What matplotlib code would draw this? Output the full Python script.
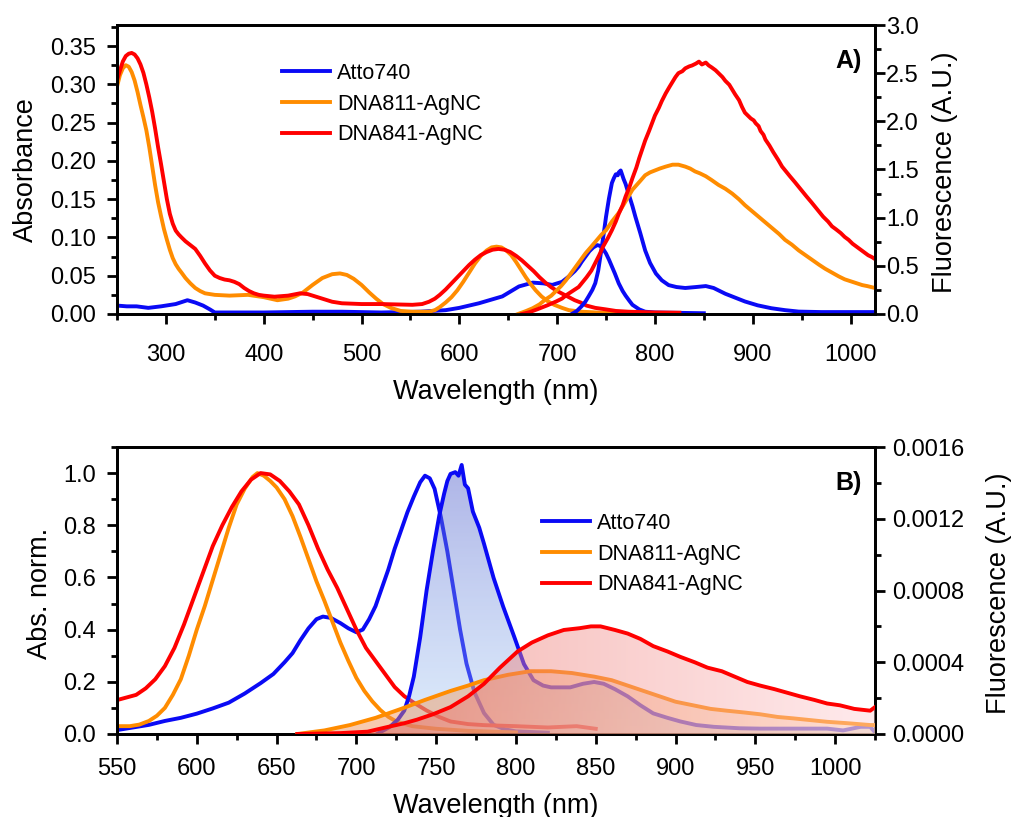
import numpy as np
import matplotlib
matplotlib.use("Agg")
import matplotlib.pyplot as plt
from matplotlib.ticker import MultipleLocator, FormatStrFormatter

plt.rcParams["font.family"] = ["Liberation Sans", "DejaVu Sans"]

BLUE = "#0a0af5"
ORANGE = "#ff8c00"
RED = "#ff0000"
labels = ["Atto740", "DNA811-AgNC", "DNA841-AgNC"]

# ----------------------------------------------------
# Panel A: absorbance (left axis)
# ----------------------------------------------------
a_abs_blue_wl = [250, 260, 270, 282, 295, 310, 322, 330, 338, 345, 350, 400, 450, 480, 520, 560,
                 586, 600, 620, 644, 661, 675, 686, 695, 705, 712, 718, 722, 725, 729, 733, 737,
                 741, 744, 747, 750, 753, 756, 759, 763, 767, 770, 774, 777, 784, 790, 800, 850]
a_abs_blue = [0.011, 0.010, 0.010, 0.008, 0.010, 0.013, 0.018, 0.015, 0.011, 0.006, 0.002, 0.002,
              0.003, 0.003, 0.002, 0.003, 0.005, 0.008, 0.014, 0.023, 0.036, 0.041, 0.040, 0.038,
              0.042, 0.049, 0.056, 0.062, 0.068, 0.075, 0.082, 0.087, 0.090, 0.089, 0.085, 0.079,
              0.071, 0.062, 0.053, 0.040, 0.030, 0.024, 0.017, 0.012, 0.006, 0.003, 0.002, 0.001]

a_abs_orange_wl = [250, 253, 256, 259, 262, 265, 268, 271, 274, 277, 280, 283, 286, 289, 292, 295,
                   298, 301, 304, 307, 310, 313, 316, 320, 325, 330, 335, 340, 345, 350, 365, 384,
                   400, 414, 425, 432, 440, 450, 460, 470, 478, 485, 492, 500, 508, 515, 522, 530,
                   540, 552, 569, 575, 580, 586, 592, 598, 604, 610, 616, 622, 628, 633, 638, 643,
                   648, 653, 658, 663, 668, 673, 678, 684, 690, 697, 705, 712, 725, 740, 760]
a_abs_orange = [0.297, 0.312, 0.321, 0.325, 0.323, 0.316, 0.305, 0.290, 0.273, 0.257, 0.240, 0.218,
                0.193, 0.168, 0.146, 0.128, 0.111, 0.097, 0.084, 0.073, 0.065, 0.059, 0.054, 0.047,
                0.040, 0.034, 0.030, 0.027, 0.026, 0.025, 0.024, 0.025, 0.022, 0.018, 0.020, 0.023,
                0.028, 0.038, 0.047, 0.052, 0.053, 0.051, 0.046, 0.038, 0.028, 0.020, 0.013, 0.008,
                0.004, 0.003, 0.003, 0.005, 0.009, 0.015, 0.022, 0.031, 0.042, 0.054, 0.066, 0.076,
                0.083, 0.087, 0.088, 0.087, 0.083, 0.077, 0.068, 0.058, 0.048, 0.039, 0.031, 0.023,
                0.017, 0.012, 0.008, 0.005, 0.003, 0.002, 0.001]

a_abs_red_wl = [250, 253, 256, 259, 262, 265, 268, 271, 274, 277, 280, 283, 286, 289, 292, 295,
                298, 301, 304, 307, 310, 313, 316, 320, 325, 330, 335, 340, 345, 350, 355, 360,
                365, 370, 375, 380, 385, 390, 395, 400, 411, 425, 437, 445, 455, 470, 480, 500,
                520, 552, 562, 569, 575, 580, 586, 592, 598, 604, 610, 616, 622, 628, 634, 640,
                646, 652, 658, 664, 670, 676, 682, 688, 694, 700, 706, 712, 718, 724, 730, 739,
                750, 760, 773, 800, 825]
a_abs_red = [0.305, 0.318, 0.330, 0.337, 0.340, 0.341, 0.339, 0.334, 0.326, 0.315, 0.300, 0.283,
             0.264, 0.242, 0.218, 0.196, 0.173, 0.150, 0.131, 0.118, 0.109, 0.104, 0.100, 0.095,
             0.090, 0.085, 0.076, 0.066, 0.057, 0.050, 0.047, 0.045, 0.044, 0.042, 0.039, 0.034,
             0.030, 0.027, 0.025, 0.024, 0.0226, 0.024, 0.027, 0.026, 0.022, 0.016, 0.014, 0.013,
             0.013, 0.012, 0.013, 0.016, 0.020, 0.025, 0.032, 0.040, 0.048, 0.056, 0.064, 0.071,
             0.077, 0.081, 0.084, 0.085, 0.084, 0.081, 0.076, 0.070, 0.063, 0.056, 0.048, 0.041,
             0.035, 0.030, 0.026, 0.022, 0.018, 0.015, 0.011, 0.008, 0.006, 0.004, 0.003, 0.002,
             0.0017]

# Panel A: fluorescence (right axis)
a_fl_blue_wl = [715, 720, 725, 729, 732, 736, 739, 742, 745, 748, 750, 753, 756, 758, 760, 762,
                763, 765, 766, 768, 770, 773, 777, 780, 785, 790, 795, 801, 807, 814, 822, 831,
                842, 852, 860, 872, 882, 892, 905, 919, 933, 947, 970, 1000, 1025]
a_fl_blue = [0.0, 0.03, 0.08, 0.13, 0.18, 0.25, 0.32, 0.45, 0.65, 0.86, 1.01, 1.20, 1.36, 1.41,
             1.45, 1.44, 1.47, 1.49, 1.46, 1.40, 1.35, 1.25, 1.12, 1.01, 0.84, 0.66, 0.53, 0.42,
             0.35, 0.30, 0.28, 0.27, 0.28, 0.29, 0.27, 0.21, 0.17, 0.13, 0.09, 0.06, 0.04, 0.025,
             0.02, 0.02, 0.02]

a_fl_orange_wl = [660, 668, 675, 682, 688, 694, 699, 704, 709, 714, 719, 724, 729, 735, 740, 745,
                  750, 756, 763, 770, 777, 784, 790, 795, 800, 805, 811, 818, 824, 831, 836, 841,
                  846, 852, 858, 865, 872, 879, 886, 892, 899, 906, 913, 920, 927, 933, 940, 947,
                  954, 961, 968, 974, 981, 988, 994, 1000, 1006, 1012, 1017, 1021, 1025]
a_fl_orange = [0.0, 0.03, 0.06, 0.10, 0.15, 0.19, 0.24, 0.29, 0.35, 0.42, 0.49, 0.56, 0.63, 0.70,
               0.76, 0.82, 0.87, 0.96, 1.05, 1.17, 1.29, 1.37, 1.44, 1.47, 1.49, 1.51, 1.53, 1.55,
               1.55, 1.53, 1.51, 1.48, 1.46, 1.43, 1.39, 1.34, 1.30, 1.25, 1.19, 1.13, 1.07, 1.01,
               0.95, 0.89, 0.83, 0.77, 0.72, 0.66, 0.61, 0.56, 0.51, 0.47, 0.43, 0.39, 0.36, 0.34,
               0.32, 0.30, 0.29, 0.28, 0.27]

a_fl_red_wl = [664, 672, 680, 690, 699, 705, 710, 716, 722, 726, 730, 735, 739, 743, 747, 752,
               756, 760, 763, 767, 770, 774, 777, 781, 784, 787, 790, 794, 797, 800, 804, 807,
               811, 815, 818, 821, 824, 828, 831, 835, 838, 842, 845, 848, 852, 855, 858, 862,
               865, 869, 872, 876, 879, 882, 886, 889, 892, 895, 898, 901, 903, 906, 908, 911,
               913, 917, 921, 926, 930, 934, 938, 943, 947, 951, 955, 960, 964, 968, 972, 977,
               981, 985, 990, 994, 998, 1002, 1006, 1010, 1014, 1018, 1022, 1025]
a_fl_red = [0.0, 0.02, 0.05, 0.09, 0.13, 0.16, 0.20, 0.24, 0.28, 0.33, 0.38, 0.45, 0.53, 0.61,
            0.70, 0.79, 0.87, 0.96, 1.04, 1.13, 1.22, 1.32, 1.41, 1.52, 1.62, 1.71, 1.80, 1.90,
            1.98, 2.06, 2.14, 2.21, 2.29, 2.36, 2.41, 2.46, 2.50, 2.52, 2.55, 2.57, 2.58, 2.60,
            2.62, 2.59, 2.61, 2.58, 2.56, 2.53, 2.50, 2.46, 2.42, 2.38, 2.33, 2.28, 2.22, 2.15,
            2.09, 2.06, 2.03, 2.01, 1.98, 1.95, 1.90, 1.86, 1.81, 1.75, 1.68, 1.60, 1.53, 1.48,
            1.43, 1.37, 1.32, 1.27, 1.22, 1.16, 1.11, 1.06, 1.01, 0.96, 0.91, 0.88, 0.84, 0.80,
            0.77, 0.73, 0.70, 0.67, 0.64, 0.61, 0.59, 0.57]

# ----------------------------------------------------
# Panel B: normalised absorbance (left axis)
# ----------------------------------------------------
b_abs_blue_wl = [550, 560, 570, 580, 590, 600, 610, 620, 630, 640, 648, 655, 660, 665, 670, 675,
                 679, 684, 690, 695, 700, 704, 708, 712, 716, 720, 724, 728, 732, 736, 740, 743,
                 746, 749, 753, 757, 761, 765, 769, 774, 780, 786, 793, 800, 820]
b_abs_blue = [0.015, 0.025, 0.035, 0.05, 0.062, 0.078, 0.098, 0.12, 0.155, 0.195, 0.23, 0.275,
              0.31, 0.36, 0.405, 0.44, 0.45, 0.445, 0.425, 0.405, 0.39, 0.40, 0.44, 0.49, 0.56,
              0.63, 0.71, 0.78, 0.85, 0.91, 0.965, 0.99, 0.98, 0.94, 0.83, 0.70, 0.55, 0.40, 0.27,
              0.16, 0.08, 0.035, 0.018, 0.01, 0.005]

b_abs_orange_wl = [550, 558, 564, 570, 575, 580, 585, 590, 595, 600, 605, 610, 615, 620, 625, 630,
                   635, 638, 642, 646, 650, 655, 660, 665, 670, 675, 680, 685, 690, 695, 700, 705,
                   710, 715, 720, 725, 735, 750, 770, 790, 800]
b_abs_orange = [0.03, 0.03, 0.036, 0.05, 0.07, 0.10, 0.15, 0.21, 0.30, 0.40, 0.49, 0.59, 0.69,
                0.79, 0.88, 0.94, 0.985, 1.0, 0.99, 0.97, 0.945, 0.90, 0.835, 0.755, 0.67, 0.585,
                0.51, 0.43, 0.35, 0.28, 0.215, 0.165, 0.125, 0.092, 0.066, 0.048, 0.03, 0.02,
                0.012, 0.008, 0.006]

b_abs_red_wl = [550, 556, 562, 568, 574, 580, 586, 592, 598, 604, 610, 616, 622, 628, 634, 640,
                646, 652, 658, 664, 670, 676, 682, 688, 694, 700, 706, 712, 718, 724, 730, 736,
                744, 752, 759, 770, 780, 800, 820, 838, 850]
b_abs_red = [0.13, 0.14, 0.15, 0.175, 0.21, 0.26, 0.33, 0.42, 0.52, 0.62, 0.72, 0.80, 0.87, 0.93,
             0.975, 1.0, 0.995, 0.97, 0.93, 0.88, 0.80, 0.71, 0.63, 0.56, 0.48, 0.40, 0.33, 0.28,
             0.23, 0.18, 0.145, 0.12, 0.09, 0.065, 0.048, 0.038, 0.034, 0.03, 0.025, 0.03, 0.02]

# Panel B: fluorescence (right axis)
b_fl_blue_wl = [713, 721, 726, 730, 733, 736, 740, 744, 748, 752, 755, 757, 759, 762, 764, 766,
                768, 770, 773, 777, 780, 786, 792, 799, 805, 811, 817, 822, 834, 842, 849, 855,
                862, 870, 878, 886, 895, 903, 913, 924, 940, 953, 975, 995, 1005, 1016, 1022, 1025]
b_fl_blue = [0.0, 0.00004, 0.00008, 0.00013, 0.00021, 0.00032, 0.00054, 0.00080, 0.00102, 0.00122,
             0.00134, 0.00141, 0.00145, 0.00146, 0.00144, 0.00150, 0.00139, 0.00137, 0.00124,
             0.00115, 0.00106, 0.00087, 0.00071, 0.00054, 0.00039, 0.00030, 0.00027, 0.00026,
             0.00026, 0.00028, 0.00029, 0.00028, 0.00025, 0.00021, 0.00016, 0.000115, 0.00009,
             0.00007, 0.00005, 0.00004, 0.000032, 0.00003, 0.00003, 0.00003, 0.00002, 0.00004,
             0.00004, 0.00001]

b_fl_orange_wl = [663, 680, 696, 712, 728, 743, 759, 770, 780, 795, 809, 822, 835, 849, 860, 870,
                  880, 890, 900, 911, 922, 932, 943, 953, 964, 974, 985, 995, 1008, 1022, 1025]
b_fl_orange = [0.0, 0.00002, 0.00005, 0.00009, 0.00014, 0.00019, 0.00024, 0.00027, 0.00030,
               0.00033, 0.00035, 0.00035, 0.00034, 0.00032, 0.00030, 0.00027, 0.00024, 0.00021,
               0.00018, 0.00016, 0.00014, 0.00013, 0.00012, 0.00011, 0.000095, 0.000087,
               0.000077, 0.000068, 0.00006, 0.00005, 0.00005]

b_fl_red_wl = [663, 690, 707, 720, 730, 738, 748, 759, 770, 780, 790, 801, 810, 820, 830, 840, 847,
               853, 862, 870, 878, 886, 895, 903, 912, 920, 929, 937, 945, 953, 962, 970, 978, 987,
               995, 1003, 1012, 1022, 1025]
b_fl_red = [0.0, 0.000005, 0.000013, 0.00004, 0.00006, 0.00008, 0.00011, 0.00015, 0.00021, 0.00028,
            0.00037, 0.00046, 0.00051, 0.00055, 0.00058, 0.00059, 0.00060, 0.00060, 0.00058,
            0.00056, 0.00053, 0.00049, 0.00046, 0.00043, 0.00040, 0.00037, 0.00035, 0.00032,
            0.00029, 0.00027, 0.00025, 0.00023, 0.00021, 0.00019, 0.00017, 0.00016, 0.00014,
            0.00013, 0.00015]


def style_axes(ax, ax2, xpad, rpad):
    for a in (ax, ax2):
        for s in a.spines.values():
            s.set_linewidth(2)
    ax.tick_params(axis="both", which="both", direction="out", width=2, labelsize=17,
                   top=False, right=False)
    ax.tick_params(which="major", length=7.5)
    ax.tick_params(which="minor", length=4.5)
    ax.tick_params(axis="x", pad=xpad)
    ax.tick_params(axis="y", pad=7.5)
    ax2.tick_params(axis="y", which="both", direction="out", width=2, labelsize=17, pad=rpad)
    ax2.tick_params(which="major", length=7.5)
    ax2.tick_params(which="minor", length=4.5)


def gradient_fill(ax, x, y, c0, c1, vertical, z):
    x = np.asarray(x)
    y = np.asarray(y)
    poly, = ax.fill(np.r_[x, x[-1], x[0]], np.r_[y, 0, 0], facecolor="none", edgecolor="none")
    t = np.linspace(0, 1, 256)
    rgba = np.array(c0)[None, :] + (np.array(c1) - np.array(c0))[None, :] * t[:, None]
    img = rgba[:, None, :] if vertical else rgba[None, :, :]
    im = ax.imshow(img, extent=[x.min(), x.max(), 0, y.max()], aspect="auto",
                   origin="lower", zorder=z, interpolation="bilinear")
    im.set_clip_path(poly)


fig = plt.figure(figsize=(10.11, 8.17), dpi=100)
lw = 2.8

# ---------------- panel A ----------------
axA = fig.add_axes([117 / 1011, 1 - 314 / 817, 758 / 1011, 289 / 817])
axA2 = axA.twinx()
h1, = axA.plot(a_abs_blue_wl, a_abs_blue, color=BLUE, lw=lw)
h2, = axA.plot(a_abs_orange_wl, a_abs_orange, color=ORANGE, lw=lw)
h3, = axA.plot(a_abs_red_wl, a_abs_red, color=RED, lw=lw)
axA2.plot(a_fl_blue_wl, a_fl_blue, color=BLUE, lw=lw)
axA2.plot(a_fl_orange_wl, a_fl_orange, color=ORANGE, lw=lw)
axA2.plot(a_fl_red_wl, a_fl_red, color=RED, lw=lw)

axA.set_xlim(250, 1025)
axA.set_ylim(0, 0.3775)
axA2.set_ylim(0, 3.0)
axA.xaxis.set_major_locator(MultipleLocator(100))
axA.xaxis.set_minor_locator(MultipleLocator(50))
axA.yaxis.set_major_locator(MultipleLocator(0.05))
axA.yaxis.set_minor_locator(MultipleLocator(0.025))
axA.yaxis.set_major_formatter(FormatStrFormatter("%.2f"))
axA2.yaxis.set_major_locator(MultipleLocator(0.5))
axA2.yaxis.set_minor_locator(MultipleLocator(0.25))
axA2.yaxis.set_major_formatter(FormatStrFormatter("%.1f"))
style_axes(axA, axA2, 14, 0.5)
axA.set_xlabel("Wavelength (nm)", fontsize=19.5)
axA.set_ylabel("Absorbance", fontsize=19.5)
axA2.set_ylabel("Fluorescence (A.U.)", fontsize=19.5)
axA.xaxis.set_label_coords(0.5, -0.225)
axA.yaxis.set_label_coords(-0.103, 0.5)
axA2.yaxis.set_label_coords(1.075, 0.49)
axA.text(0.983, 0.875, "A)", transform=axA.transAxes, ha="right", va="center",
         fontsize=18, fontweight="bold")
axA2.legend([h1, h2, h3], labels, loc="upper left", bbox_to_anchor=(282 / 1011, 1 - 63 / 817),
            bbox_transform=fig.transFigure, frameon=False, fontsize=15.5, handlelength=2.25,
            handletextpad=0.3, labelspacing=0.45, borderpad=0, borderaxespad=0)

# ---------------- panel B ----------------
axB = fig.add_axes([117 / 1011, 1 - 734 / 817, 758 / 1011, 287 / 817])
axB2 = axB.twinx()
axB.plot(b_abs_blue_wl, b_abs_blue, color=BLUE, lw=lw)
axB.plot(b_abs_orange_wl, b_abs_orange, color=ORANGE, lw=lw)
axB.plot(b_abs_red_wl, b_abs_red, color=RED, lw=lw)

gradient_fill(axB2, b_fl_blue_wl, b_fl_blue, (0.62, 0.78, 0.96, 0.35), (0.33, 0.38, 0.80, 0.48),
              True, 1)
axB2.plot(b_fl_blue_wl, b_fl_blue, color=BLUE, lw=lw, zorder=2)
gradient_fill(axB2, b_fl_orange_wl, b_fl_orange, (0.93, 0.50, 0.25, 0.45),
              (1.0, 0.85, 0.62, 0.45), False, 3)
axB2.plot(b_fl_orange_wl, b_fl_orange, color=ORANGE, lw=lw, zorder=4)
gradient_fill(axB2, b_fl_red_wl, b_fl_red, (0.90, 0.30, 0.25, 0.45),
              (1.0, 0.82, 0.84, 0.45), False, 5)
axB2.plot(b_fl_red_wl, b_fl_red, color=RED, lw=lw, zorder=6)

axB.set_xlim(550, 1025)
axB.set_ylim(0, 1.1)
axB2.set_xlim(550, 1025)
axB2.set_ylim(0, 0.0016)
axB.xaxis.set_major_locator(MultipleLocator(50))
axB.xaxis.set_minor_locator(MultipleLocator(25))
axB.yaxis.set_major_locator(MultipleLocator(0.2))
axB.yaxis.set_minor_locator(MultipleLocator(0.1))
axB.yaxis.set_major_formatter(FormatStrFormatter("%.1f"))
axB2.yaxis.set_major_locator(MultipleLocator(0.0004))
axB2.yaxis.set_minor_locator(MultipleLocator(0.0002))
axB2.yaxis.set_major_formatter(FormatStrFormatter("%.4f"))
style_axes(axB, axB2, 9.5, 4.5)
axB.set_xlabel("Wavelength (nm)", fontsize=19.5)
axB.set_ylabel("Abs. norm.", fontsize=19.5)
axB2.set_ylabel("Fluorescence (A.U.)", fontsize=19.5)
axB.xaxis.set_label_coords(0.5, -0.205)
axB.yaxis.set_label_coords(-0.084, 0.49)
axB2.yaxis.set_label_coords(1.147, 0.49)
axB.text(0.983, 0.875, "B)", transform=axB.transAxes, ha="right", va="center",
         fontsize=18, fontweight="bold")
axB2.legend(axA2.get_legend().legend_handles, labels, loc="upper left",
            bbox_to_anchor=(542 / 1011, 1 - 513 / 817), bbox_transform=fig.transFigure,
            frameon=False, fontsize=15.5, handlelength=2.25, handletextpad=0.3,
            labelspacing=0.45, borderpad=0, borderaxespad=0)

fig.savefig("out.png", dpi=100)
